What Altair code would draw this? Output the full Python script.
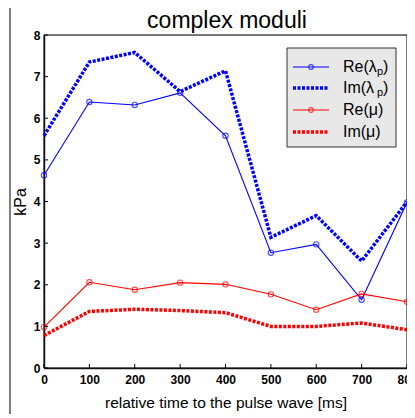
import altair as alt
import pandas as pd

# ---- data ----
time_ms = [0, 100, 200, 300, 400, 500, 600, 700, 800]
re_lambda = [4.63, 6.39, 6.32, 6.61, 5.58, 2.77, 2.97, 1.64, 3.98]
im_lambda = [5.58, 7.35, 7.58, 6.64, 7.14, 3.14, 3.66, 2.57, 3.99]
re_mu = [0.98, 2.06, 1.88, 2.05, 2.01, 1.77, 1.40, 1.78, 1.59]
im_mu = [0.78, 1.36, 1.41, 1.38, 1.33, 1.00, 1.00, 1.08, 0.92]
x_ticks = [0, 100, 200, 300, 400, 500, 600, 700, 800]
y_ticks = [0, 1, 2, 3, 4, 5, 6, 7, 8]
legend_labels = ["Re(λ", "Im(λ", "Re(μ)", "Im(μ)"]

W, H = 363, 333
FONT = "Liberation Sans"

xs = alt.Scale(domain=[0, 800], nice=False)
ys = alt.Scale(domain=[0, 8], nice=False)

def series_df(vals):
    return pd.DataFrame({"t": time_ms, "v": vals})

xax = alt.Axis(values=x_ticks, ticks=False, grid=False, labelFont=FONT, labelFontWeight="bold",
               labelFontSize=12, labelColor="black", labelPadding=6, domainColor="#222",
               domainWidth=1.5, title="relative time to the pulse wave [ms]", titleFont=FONT,
               titleFontSize=15.5, titleFontWeight="normal", titleColor="black",
               titleY=39, titleBaseline="alphabetic",
               labelFlush=False, labelOverlap=False)
yax = alt.Axis(values=y_ticks, ticks=False, grid=False, labelFont=FONT, labelFontWeight="bold",
               labelFontSize=12, labelColor="black", labelPadding=4, domainColor="#222",
               domainWidth=1.5, title="kPa", titleFont=FONT, titleFontSize=16,
               titleFontWeight="normal", titleColor="black", titlePadding=5, labelFlush=False)

layers = []

# outer figure frame
one = pd.DataFrame({"a": [0]})
layers.append(alt.Chart(one).mark_rect(fill=None, stroke="black", strokeWidth=1).encode(
    x=alt.value(-34), x2=alt.value(W + 30), y=alt.value(-30), y2=alt.value(H + 80)))

# plot box
layers.append(alt.Chart(one).mark_rect(fill=None, stroke="black", strokeWidth=1).encode(
    x=alt.value(0), x2=alt.value(W), y=alt.value(0), y2=alt.value(H)))

# series
def solid(vals, color):
    d = series_df(vals)
    base = alt.Chart(d).encode(x=alt.X("t:Q", scale=xs, axis=xax), y=alt.Y("v:Q", scale=ys, axis=yax))
    return [base.mark_line(color=color, strokeWidth=1.1),
            base.mark_point(color=color, shape="circle", size=28, strokeWidth=1.1, filled=False)]

def dotted(vals, color):
    d = series_df(vals)
    base = alt.Chart(d).encode(x=alt.X("t:Q", scale=xs, axis=xax), y=alt.Y("v:Q", scale=ys, axis=yax))
    return [base.mark_line(color=color, strokeWidth=3.5, strokeDash=[3, 1.5])]

layers += dotted(im_lambda, "#0000ff")
layers += solid(re_lambda, "#0000ff")
layers += dotted(im_mu, "#ff0000")
layers += solid(re_mu, "#ff0000")

# inward ticks
xt = pd.DataFrame({"t": x_ticks})
layers.append(alt.Chart(xt).mark_rule(color="black", strokeWidth=1).encode(
    x=alt.X("t:Q", scale=xs), y=alt.value(H), y2=alt.value(H - 4)))
yt = pd.DataFrame({"v": y_ticks})
layers.append(alt.Chart(yt).mark_rule(color="black", strokeWidth=1).encode(
    y=alt.Y("v:Q", scale=ys), x=alt.value(0), x2=alt.value(4)))

# title
layers.append(alt.Chart(one).mark_text(text="complex moduli", font=FONT, fontSize=23,
                                       baseline="alphabetic", align="center", color="black").encode(
    x=alt.value(183), y=alt.value(-7)))

# legend
layers.append(alt.Chart(one).mark_rect(fill="#e8e8e8", stroke="#333", strokeWidth=1).encode(
    x=alt.value(243), x2=alt.value(352), y=alt.value(13), y2=alt.value(112)))
rows_y = [32, 53, 75, 97]
colors = ["#0000ff", "#0000ff", "#ff0000", "#ff0000"]
for i, (lab, col, ry) in enumerate(zip(legend_labels, colors, rows_y)):
    if i % 2 == 0:
        layers.append(alt.Chart(one).mark_rule(color=col, strokeWidth=1.1).encode(
            x=alt.value(249), x2=alt.value(285), y=alt.value(ry)))
        layers.append(alt.Chart(one).mark_point(color=col, shape="circle", size=22, filled=False,
                                                strokeWidth=1.1).encode(
            x=alt.value(267), y=alt.value(ry)))
    else:
        layers.append(alt.Chart(one).mark_rule(color=col, strokeWidth=3.5, strokeDash=[3, 1.5]).encode(
            x=alt.value(249), x2=alt.value(285), y=alt.value(ry)))
    layers.append(alt.Chart(one).mark_text(text=lab, font=FONT, fontSize=16, align="left",
                                           baseline="middle", color="black").encode(
        x=alt.value(299), y=alt.value(ry)))
    if i < 2:
        layers.append(alt.Chart(one).mark_text(text="p", font=FONT, fontSize=11, align="left",
                                               baseline="middle", color="black").encode(
            x=alt.value(333), y=alt.value(ry + 5)))
        layers.append(alt.Chart(one).mark_text(text=")", font=FONT, fontSize=16, align="left",
                                               baseline="middle", color="black").encode(
            x=alt.value(339), y=alt.value(ry)))

chart = alt.layer(*layers).properties(
    width=W, height=H,
    autosize=alt.AutoSizeParams(type="none"),
    padding={"left": 36, "top": 27, "right": 0, "bottom": 46},
).configure_view(stroke=None).configure(background="white")

chart.save("out.html", embed_options={"renderer": "svg", "actions": False})
